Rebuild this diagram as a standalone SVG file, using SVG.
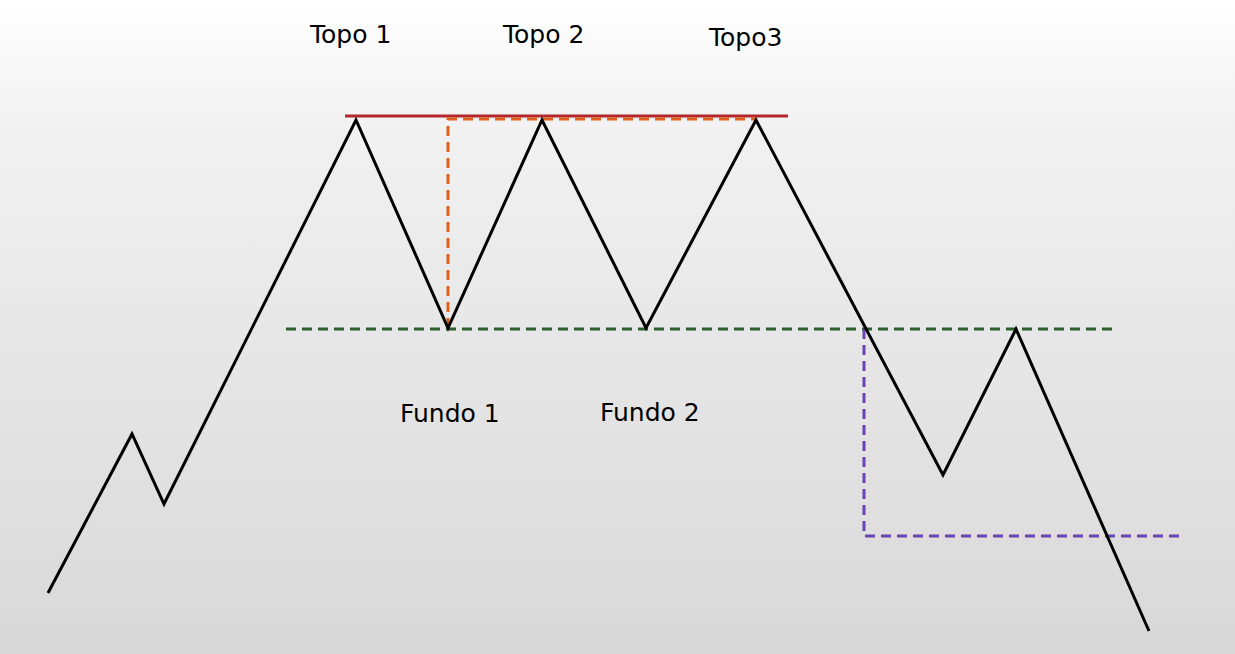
<svg xmlns="http://www.w3.org/2000/svg" width="1235" height="654" viewBox="0 0 1235 654">
  <defs>
    <linearGradient id="bg" x1="0" y1="0" x2="0" y2="1">
      <stop offset="0" stop-color="#ffffff"/>
      <stop offset="0.2" stop-color="#f1f1f1"/>
      <stop offset="1" stop-color="#d8d8d8"/>
    </linearGradient>
  </defs>
  <style>
    .lbl { font-family: "DejaVu Sans", Verdana, sans-serif; font-size: 25px; fill: #000; }
    .price { fill: none; stroke: #000; stroke-width: 3; stroke-linejoin: miter; }
    .dash { fill: none; stroke-width: 3; stroke-dasharray: 10 6; }
  </style>
  <rect x="0" y="0" width="1235" height="654" fill="url(#bg)"/>

  <g id="connectors">
    <line id="resistance" x1="345" y1="116" x2="788" y2="116" stroke="#b3272a" stroke-width="3"/>
    <polyline id="height" class="dash" stroke="#e0601a" points="448,328 448,119 756,119"/>
    <line id="neckline" class="dash" stroke="#2b5f2b" x1="286" y1="329" x2="1117" y2="329"/>
    <polyline id="target" class="dash" stroke="#6b42b3" points="864,329 864,536 1184,536"/>
    <polyline id="price" class="price" points="48,593 132,434 164,504 356,120 448,328 542,120 646,328 756,120 943,475 1016,329 1149,631"/>
  </g>

  <g id="topo1"><text class="lbl" x="310" y="43">Topo 1</text></g>
  <g id="topo2"><text class="lbl" x="503" y="43">Topo 2</text></g>
  <g id="topo3"><text class="lbl" x="709" y="46">Topo3</text></g>
  <g id="fundo1"><text class="lbl" x="400" y="422">Fundo 1</text></g>
  <g id="fundo2"><text class="lbl" x="600" y="421">Fundo 2</text></g>
</svg>
